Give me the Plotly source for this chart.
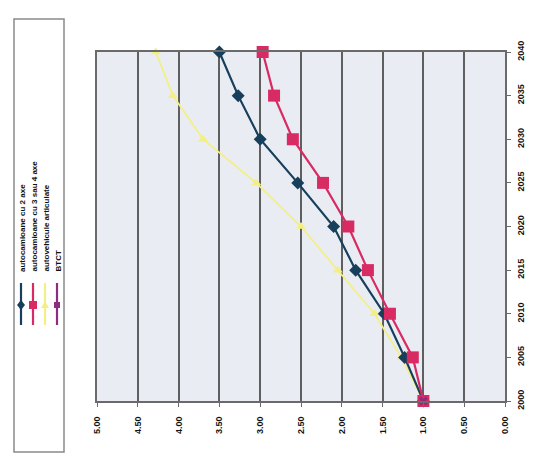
import plotly.graph_objects as go

years = [2000, 2005, 2010, 2015, 2020, 2025, 2030, 2035, 2040]
year_labels = ["2000", "2005", "2010", "2015", "2020", "2025", "2030", "2035", "2040"]
val_ticks = [0.0, 0.5, 1.0, 1.5, 2.0, 2.5, 3.0, 3.5, 4.0, 4.5, 5.0]
val_labels = ["0.00", "0.50", "1.00", "1.50", "2.00", "2.50", "3.00", "3.50", "4.00", "4.50", "5.00"]

series_names = ["autocamioane cu 2 axe", "autocamioane cu 3 sau 4 axe",
                "autovehicule articulate", "BTCT"]
s_2axe = [1.00, 1.23, 1.48, 1.83, 2.10, 2.54, 3.00, 3.27, 3.50]
s_34axe = [1.00, 1.13, 1.41, 1.68, 1.92, 2.23, 2.60, 2.83, 2.97]
s_artic = [1.00, 1.27, 1.60, 2.05, 2.50, 3.05, 3.70, 4.07, 4.28]
s_btct_years = [2000]
s_btct = [1.00]

colors = ["#173f5c", "#d82a63", "#f3ef86", "#8e2c80"]
symbols = ["diamond", "square", "triangle-up", "x"]
sizes = [10, 12, 9, 8]

OFF = 8  # page body margin
PW, PH = 534, 461
L, R, T, B = 97, 505, 52, 401  # plot area in page pixels
W, H = PW - OFF, PH - OFF

fig = go.Figure()
data_sets = [(years, s_2axe), (years, s_34axe), (years, s_artic), (s_btct_years, s_btct)]
order = [2, 0, 1, 3]
for i in order:
    yy, xx = data_sets[i]
    fig.add_trace(go.Scatter(
        x=xx, y=yy, mode="lines+markers", name=series_names[i],
        line=dict(color=colors[i], width=2.2 if i != 2 else 1.8),
        marker=dict(color=colors[i], symbol=symbols[i], size=sizes[i]),
        showlegend=False, cliponaxis=False))

def px(x):
    return (x - L) / (R - L)

def py(y):
    return (B - y) / (B - T)

shapes = []
annotations = []
shapes.append(dict(type="rect", xref="paper", yref="paper",
                   x0=px(14), x1=px(64), y0=py(452), y1=py(19),
                   line=dict(color="#8a8a8a", width=1.5), fillcolor="white", layer="below"))
leg_x = [21, 33, 45, 57]
for i in range(4):
    shapes.append(dict(type="line", xref="paper", yref="paper",
                       x0=px(leg_x[i]), x1=px(leg_x[i]), y0=py(325), y1=py(283),
                       line=dict(color=colors[i], width=2.2)))
    annotations.append(dict(xref="paper", yref="paper", x=px(leg_x[i] + 1), y=py(274),
                            text=series_names[i], textangle=-90, showarrow=False,
                            xanchor="center", yanchor="bottom",
                            font=dict(size=8, color="#111", family="Liberation Sans", weight="bold")))
for i in range(4):
    cx, cy = leg_x[i], 305
    if i == 1:
        shapes.append(dict(type="rect", xref="paper", yref="paper",
                           x0=px(cx - 4), x1=px(cx + 4), y0=py(cy + 4), y1=py(cy - 4),
                           fillcolor=colors[i], line=dict(width=0)))
    elif i == 0:
        shapes.append(dict(type="path", xref="paper", yref="paper",
                           path=f"M {px(cx)} {py(cy-5)} L {px(cx+4)} {py(cy)} L {px(cx)} {py(cy+5)} L {px(cx-4)} {py(cy)} Z",
                           fillcolor=colors[i], line=dict(width=0)))
    elif i == 2:
        shapes.append(dict(type="path", xref="paper", yref="paper",
                           path=f"M {px(cx)} {py(cy-4)} L {px(cx+4)} {py(cy+3)} L {px(cx-4)} {py(cy+3)} Z",
                           fillcolor=colors[i], line=dict(width=0)))
    else:
        shapes.append(dict(type="rect", xref="paper", yref="paper",
                           x0=px(cx - 3), x1=px(cx + 3), y0=py(cy + 3), y1=py(cy - 3),
                           fillcolor=colors[i], line=dict(width=0)))

fig.update_layout(
    width=W, height=H,
    margin=dict(l=L - OFF, r=PW - R, t=T - OFF, b=PH - B, pad=0, autoexpand=False),
    paper_bgcolor="white", plot_bgcolor="#e9edf3",
    shapes=shapes, annotations=annotations,
    showlegend=False,
    font=dict(family="Liberation Sans", size=8, color="#111"),
)
fig.update_xaxes(range=[5, 0], tickvals=val_ticks, ticktext=val_labels, tickangle=-90,
                 showgrid=True, gridcolor="#5f5f5f", gridwidth=1.5, zeroline=False,
                 showline=True, linecolor="#6a6a6a", linewidth=2, mirror=True,
                 ticks="outside", ticklen=4, tickcolor="#6a6a6a", automargin=False,
                 ticklabelstandoff=6,
                 tickfont=dict(size=9, family="Liberation Sans", color="#111", weight="bold"))
fig.update_yaxes(range=[2000, 2040], tickvals=years, ticktext=year_labels, tickangle=-90,
                 side="right", showgrid=False, zeroline=False,
                 showline=True, linecolor="#6a6a6a", linewidth=2, mirror=True,
                 ticks="outside", ticklen=4, tickcolor="#6a6a6a", automargin=False,
                 ticklabelstandoff=2,
                 tickfont=dict(size=9, family="Liberation Sans", color="#111", weight="bold"))

fig.write_html("out.html")
